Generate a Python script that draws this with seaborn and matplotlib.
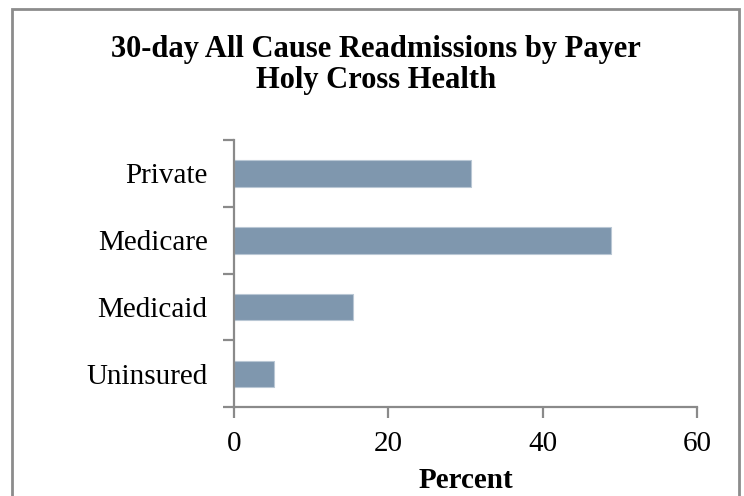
import matplotlib
matplotlib.use("Agg")
import matplotlib.pyplot as plt
from matplotlib.patches import Rectangle
from matplotlib.ticker import FixedLocator
import seaborn as sns
import pandas as pd

# Readmission share by payer (percent)
payers = ["Private", "Medicare", "Medicaid", "Uninsured"]
percent = [30.7, 48.8, 15.4, 5.2]
x_ticks = [0, 20, 40, 60]

title_lines = ["30-day All Cause Readmissions by Payer", "Holy Cross Health"]
x_label = "Percent"

sns.set_theme(style="white")
plt.rcParams["font.family"] = ["Liberation Serif", "DejaVu Serif"]

W, H = 744, 496
fig = plt.figure(figsize=(W / 100, H / 100), dpi=100)
ax = fig.add_axes([234 / W, 1 - 407.3 / H, (697 - 234) / W, (407.3 - 140) / H])

df = pd.DataFrame({"payer": payers, "percent": percent})
sns.barplot(data=df, x="percent", y="payer", orient="h", color="#7f97ae",
            saturation=1, width=0.4, edgecolor="#b9c7d4", linewidth=0.8, ax=ax)

axis_grey = "#8a8a8a"
ax.set_xlim(0, 60)
ax.set_ylim(len(payers) - 0.5, -0.5)
ax.set_xticks(x_ticks)
ax.set_xticklabels([str(t) for t in x_ticks])
ax.yaxis.set_minor_locator(FixedLocator([i - 0.5 for i in range(len(payers) + 1)]))

for side in ["top", "right"]:
    ax.spines[side].set_visible(False)
for side in ["left", "bottom"]:
    ax.spines[side].set_color(axis_grey)
    ax.spines[side].set_linewidth(1.6)

ax.tick_params(axis="x", which="major", direction="out", length=8, width=1.6,
               color=axis_grey, labelsize=21, pad=9, labelcolor="black", bottom=True)
ax.tick_params(axis="y", which="major", length=0, labelsize=21, pad=19, labelcolor="black")
ax.tick_params(axis="y", which="minor", direction="out", length=8, width=1.6,
               color=axis_grey, left=True)

ax.set_ylabel("")
ax.set_xlabel(x_label, fontsize=21, fontweight="bold", color="black", labelpad=7)

for line, base_px in zip(title_lines, [56.7, 88.3]):
    fig.text(376 / W, 1 - base_px / H, line, ha="center", va="baseline",
             fontsize=22, fontweight="bold", color="black")

# Chart frame
fig.patches.append(Rectangle((11.5 / W, -0.05), (739 - 11.5) / W, 1.05 - 9 / H,
                             transform=fig.transFigure, fill=False,
                             edgecolor="#8c8c8c", linewidth=2))

fig.savefig("out.png", dpi=100, facecolor="white")
